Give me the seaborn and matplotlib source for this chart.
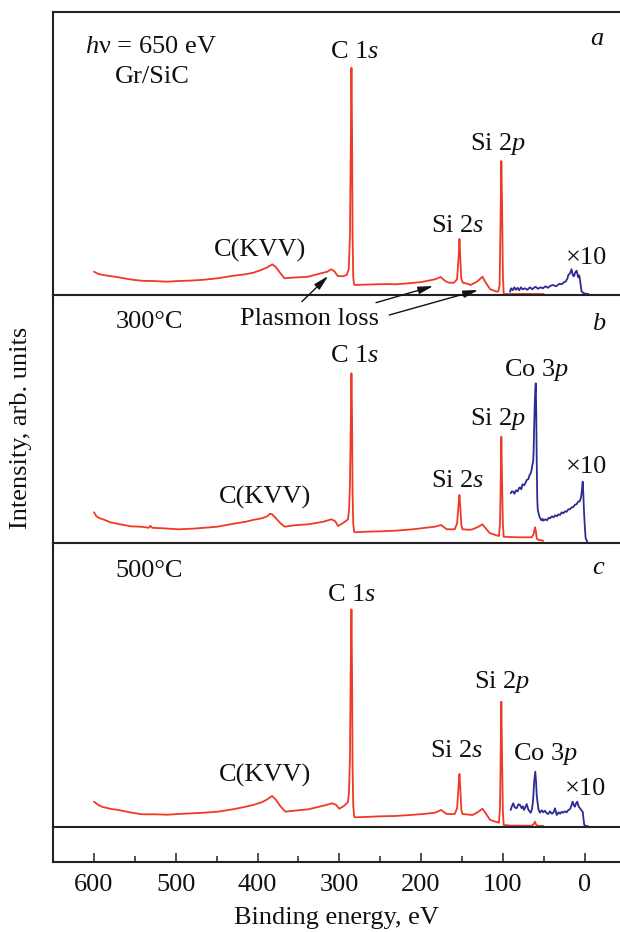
import numpy as np
import pandas as pd
import matplotlib
matplotlib.use("Agg")
import matplotlib.pyplot as plt
from matplotlib.ticker import MultipleLocator
import seaborn as sns

# ---------------- data (binding energy eV, intensity arb. units) ----------------
E_red_a = [600, 595, 590, 585, 570, 555, 541, 525, 510, 497, 480, 465, 449, 430, 415, 405, 395, 388, 382, 378,
           372, 367, 360, 350, 338, 325, 315, 310, 306, 302, 296, 291, 288.5, 287, 286, 285.2, 284.5, 283.8, 283,
           282, 281, 270, 255, 240, 231, 215, 200, 183, 176, 171, 166, 160, 156, 154, 153.1, 152.2, 151, 149, 143,
           139.6, 132, 127, 125, 122, 118, 115.4, 109, 105.8, 104, 102.8, 101.9, 101, 100, 99, 90, 75, 60, 50]
I_red_a = [23.6, 21.5, 20.5, 19.8, 18.0, 15.8, 14.5, 14.2, 13.6, 14.3, 14.8, 15.6, 17.0, 19.5, 21.0, 22.6, 25.5,
           28.0, 31.0, 28.5, 22.0, 17.0, 17.5, 18.0, 18.6, 21.5, 23.5, 26.0, 24.0, 19.3, 19.0, 20.3, 26, 60, 150,
           227.6, 170, 60, 18, 11, 10.3, 10.6, 11.0, 11.2, 11.0, 12.0, 13.2, 16.0, 18.3, 14.5, 12.6, 12.5, 16, 40,
           56.3, 40, 17, 12.6, 11.5, 10.3, 13.5, 17.0, 18.6, 14, 9, 6.0, 4.0, 3.6, 10, 80, 134.3, 90, 20, 1.3, 1.2,
           1.4, 1.3, 1.3]
E_blue_a = [91.3, 90, 88, 86, 84, 82, 80, 78, 76, 73, 70, 67, 64, 62.8, 60, 57, 54, 51, 48, 45, 42, 38.4, 35, 31,
            28, 26.2, 23, 21, 20, 18, 16, 14.5, 13.1, 11.5, 9.8, 8, 6.6, 5.5, 4.5, 3.7, 1, -2, -4.4]
I_blue_a = [3.6, 7.0, 5.0, 8.0, 5.5, 7.5, 5.0, 8.0, 6.0, 7.0, 5.5, 8.0, 6.0, 7.0, 8.5, 6.5, 8.0, 7.0, 9.0, 7.5,
            9.5, 10.3, 9.0, 11.5, 11.0, 12.6, 14, 17, 20.3, 22, 26, 20, 19, 23, 24.6, 18, 20, 14, 8, 3.6, 2.0, 1.5,
            1.3]

E_red_b = [600, 597, 593, 589, 580, 570, 555, 541, 533, 531, 529, 515, 497, 480, 465, 449, 430, 415, 405.6, 395,
           388, 385, 382.3, 378, 372, 366.8, 355, 337.8, 320, 309.7, 305, 301.6, 296, 291, 289.4, 288, 287, 286,
           285.2, 284.5, 283.8, 283, 282, 281.3, 270, 250, 231.5, 210, 195, 183, 175.7, 171, 168.6, 159, 156,
           154.3, 153.1, 152, 150.8, 149.3, 140, 137.2, 130, 125.1, 121, 117, 115.4, 108, 104.8, 103.5, 102.5,
           101.9, 101.2, 100, 99, 90, 80, 70, 64.8, 62.5, 61.5, 60.8, 59.8, 58.8, 58, 54, 50.6]
I_red_b = [31, 27, 25, 24, 21, 19.3, 17, 16.5, 15.5, 17.5, 15.5, 15, 14, 14.6, 15.5, 16.6, 19.5, 21.5, 23.3, 25,
           27, 29.5, 29, 25.5, 20, 16.6, 18, 19, 21.5, 24, 22, 17.3, 20, 23, 24, 35, 60, 120, 170, 130, 50, 20, 12,
           11, 11.5, 12, 12.6, 14, 15.5, 16.6, 18.3, 15.5, 14, 14, 20, 38, 48.3, 35, 18, 14, 13.5, 14, 16.5, 19,
           15, 11, 10, 8, 7.3, 20, 70, 106.6, 70, 18, 6.6, 6.2, 6.0, 6.0, 6.0, 9, 13, 16, 13, 6, 4, 3, 2.6]
E_blue_b = [90.5, 89, 87.3, 86, 84, 82, 80, 79.1, 77.5, 76, 74, 72, 70.9, 69, 67.5, 66, 65, 64, 63, 62.5, 61.8,
            61.0, 60.3, 59.8, 59.2, 58.6, 58, 57.4, 56.4, 55, 53, 51.5, 50.6, 48, 46, 44, 42.4, 40, 38, 36, 34,
            32, 30.2, 28, 26, 24, 22, 20, 18, 16, 14, 12, 10, 8, 6, 4.5, 3.5, 2.4, 1.6, 0.9, -0.3, -1.2, -3.2]
I_blue_b = [50, 52, 51.6, 49.5, 53, 52, 55.5, 56, 54, 59, 58, 61, 63.3, 64, 68, 70, 73, 78, 82, 90, 115, 140,
            155, 160, 130, 80, 45, 34, 30, 26, 23, 24.5, 22.6, 24, 23, 25.5, 25, 27, 26, 28, 27, 29, 28.3, 31, 30,
            32, 31.5, 34, 34, 36, 36, 38.5, 39, 41.6, 42, 46, 52, 61.6, 48, 33, 15, 5, 1.6]

E_red_c = [600, 595, 590, 580, 570, 555, 541, 525, 510, 497, 480, 465, 449, 430, 415, 405.6, 395, 388, 382.3,
           378, 372, 366, 355, 337.8, 320, 308.8, 304, 300.1, 295, 291, 289.4, 288.2, 287, 286.2, 285.2, 284.5,
           283.8, 283, 282, 281.3, 270, 250, 231.5, 210, 195, 183, 175.7, 171, 168.6, 159, 156, 154.3, 153.1, 152,
           150.8, 149.3, 140, 137.2, 130, 125.1, 121, 117, 115.4, 108, 104.8, 103.5, 102.6, 101.9, 101.2, 100, 99,
           90, 75, 64.8, 62, 60.8, 59.5, 58, 50.6]
I_red_c = [25.6, 22.5, 20.5, 18.5, 17.3, 14.8, 13, 13, 12.6, 13.3, 14, 14.6, 15.6, 18, 20.5, 22.3, 25, 28, 31.3,
           28, 21, 15.6, 16.6, 18, 21.5, 24, 22.5, 18.6, 21, 24, 25.6, 35, 70, 150, 218, 160, 60, 22, 12, 10, 10.3,
           11, 11.3, 12.5, 13.5, 14.6, 17.3, 14.5, 13.3, 13.3, 19, 40, 53.3, 38, 17, 13.3, 12.5, 12.3, 15.5, 18.6,
           14, 9, 7.3, 5.3, 4.6, 20, 80, 125.6, 80, 15, 2.3, 1.7, 1.6, 1.6, 3.5, 5.6, 3, 1.6, 1.3]
E_blue_c = [90.5, 89, 87.3, 85.5, 83.2, 81, 79.1, 77, 75.5, 74.2, 72.5, 70.9, 69, 67.5, 66, 64.5, 63.5, 62.8, 61.8,
            60.4, 59.4, 58.6, 58, 56.5, 54.7, 52.5, 50.5, 48.5, 46.5, 44.5, 42.5, 40, 38, 36.3, 35, 34.2, 32, 30,
            28, 26.2, 24, 22, 20, 18, 16.5, 14.7, 13.2, 11.9, 10.5, 9, 7.5, 5.7, 4, 2.4, 1.5, 0.5, -2, -4.4]
I_blue_c = [17.3, 21, 24, 20, 19, 23, 22.3, 19, 21, 17.3, 20, 23.3, 18, 16, 14.6, 18, 24, 30.6, 45, 55.6, 45, 32,
            27.3, 18, 14.6, 17, 15, 16.6, 14, 13.3, 16, 13.5, 15, 19, 15, 12.3, 15, 13.5, 15.5, 14.6, 16, 15, 17.3,
            18, 21, 25.6, 22, 20.6, 24, 25.6, 21, 19, 17, 15.6, 9, 2.3, 1.3, 1]

xticks_major = [600, 500, 400, 300, 200, 100, 0]
xtick_labels = ["600", "500", "400", "300", "200", "100", "0"]

RED = "#ee3a26"
BLUE = "#2e2b94"

# ---------------- style ----------------
sns.set_style("ticks")
plt.rcParams["font.family"] = ["Liberation Serif", "DejaVu Serif"]
plt.rcParams["mathtext.fontset"] = "custom"
plt.rcParams["mathtext.rm"] = "Liberation Serif"
plt.rcParams["mathtext.it"] = "Liberation Serif:italic"
plt.rcParams["axes.linewidth"] = 1.5
FS = 19

fig = plt.figure(figsize=(6.2, 9.32), dpi=100)
W = 620.0
H = 932.0
left = 52.7 / W
width = 1.0 - left
bounds = [(12.0, 295.3), (295.3, 543.3), (543.3, 827.3), (827.3, 862.3)]
axes = []
for (top, bot) in bounds:
    ax = fig.add_axes([left, 1 - bot / H, width, (bot - top) / H])
    axes.append(ax)
ax_a, ax_b, ax_c, ax_s = axes
heights = [b - t for t, b in bounds]

for i, ax in enumerate(axes):
    ax.set_xlim(650.5, -43.2)
    ax.set_ylim(0, heights[i])
    ax.set_yticks([])
    ax.spines["right"].set_visible(False)
    if i > 0:
        ax.spines["top"].set_visible(False)
    ax.spines["left"].set_color("#222222")
    ax.spines["bottom"].set_color("#222222")
    ax.spines["top"].set_color("#222222")
    ax.patch.set_alpha(0)
    if i < 3:
        ax.set_xticks([])
    ax.set_ylabel("")
    ax.set_xlabel("")

def draw(ax, E, I, color):
    df = pd.DataFrame({"E": E, "I": I})
    sns.lineplot(data=df, x="E", y="I", ax=ax, color=color, lw=1.3, sort=False, estimator=None, legend=False)
    ax.set_xlabel("")
    ax.set_ylabel("")

draw(ax_a, E_red_a, I_red_a, RED)
draw(ax_a, E_blue_a, I_blue_a, BLUE)
draw(ax_b, E_red_b, I_red_b, RED)
draw(ax_b, E_blue_b, I_blue_b, BLUE)
draw(ax_c, E_red_c, I_red_c, RED)
draw(ax_c, E_blue_c, I_blue_c, BLUE)
for ax in axes[:3]:
    ax.set_xlim(650.5, -43.2)
    ax.set_xticks([])

# strip axis with ticks
ax_s.set_xticks(xticks_major)
ax_s.set_xticklabels(xtick_labels, fontsize=FS)
ax_s.xaxis.set_minor_locator(MultipleLocator(50))
ax_s.tick_params(axis="x", which="major", direction="in", length=6.5, width=1.1, pad=8.5, colors="#222222",
                 labelcolor="#111111")
ax_s.tick_params(axis="x", which="minor", direction="in", length=4, width=1.1, colors="#222222")
ax_s.set_xlabel("Binding energy, eV", fontsize=FS, labelpad=8, color="#111111")

fig.text(21 / W, 1 - 428 / H, "Intensity, arb. units", rotation=90, ha="center", va="center",
         fontsize=FS, color="#111111")

tk = dict(fontsize=FS, ha="center", va="baseline", color="#111111")
# panel a
ax_a.text(530.3, 242, r"$\it{h}$ν = 650 eV", **tk)
ax_a.text(528.4, 212, "Gr/SiC", **tk)
ax_a.text(282, 237, r"C 1$\it{s}$", **tk)
ax_a.text(106, 145.3, r"Si 2$\it{p}$", **tk)
ax_a.text(155, 63.6, r"Si 2$\it{s}$", **tk)
ax_a.text(397.6, 38.6, "C(KVV)", **tk)
ax_a.text(-1.7, 31, "×10", **tk)
ax_a.text(-15, 250, "a", style="italic", **tk)
# panel b
ax_b.text(532.4, 215, "300°C", **tk)
ax_b.text(336.3, 218.3, "Plasmon loss", **tk)
ax_b.text(-16.9, 213.3, "b", style="italic", **tk)
ax_b.text(282, 181.6, r"C 1$\it{s}$", **tk)
ax_b.text(58.7, 167.3, r"Co 3$\it{p}$", **tk)
ax_b.text(106, 118.3, r"Si 2$\it{p}$", **tk)
ax_b.text(155, 56, r"Si 2$\it{s}$", **tk)
ax_b.text(391.3, 39.3, "C(KVV)", **tk)
ax_b.text(-1.7, 70, "×10", **tk)
# panel c
ax_c.text(532.4, 250.6, "500°C", **tk)
ax_c.text(-16.3, 253.3, "c", style="italic", **tk)
ax_c.text(285.2, 226.3, r"C 1$\it{s}$", **tk)
ax_c.text(100.9, 139.6, r"Si 2$\it{p}$", **tk)
ax_c.text(156, 70, r"Si 2$\it{s}$", **tk)
ax_c.text(47.7, 67.3, r"Co 3$\it{p}$", **tk)
ax_c.text(390.5, 45.6, "C(KVV)", **tk)
ax_c.text(-1.6, 32.3, "×10", **tk)

# plasmon-loss arrows (from label in panel b to features in panel a)
arrow_tails = [(345.9, 241.6), (255.2, 240.6), (238.9, 228.3)]
arrow_heads = [(313.6, 19.3), (185.1, 9.3), (130.1, 5.3)]
for (tx, ty), (hx, hy) in zip(arrow_tails, arrow_heads):
    an = ax_b.annotate("", xy=(hx, hy), xycoords=ax_a.transData, xytext=(tx, ty), textcoords=ax_b.transData,
                       arrowprops=dict(arrowstyle="-|>,head_length=0.9,head_width=0.22", lw=1.0, color="#111111",
                                       shrinkA=0, shrinkB=0), annotation_clip=False)
    an.set_clip_on(False)
    an.arrow_patch.set_clip_on(False)

fig.savefig("out.png", dpi=100)
